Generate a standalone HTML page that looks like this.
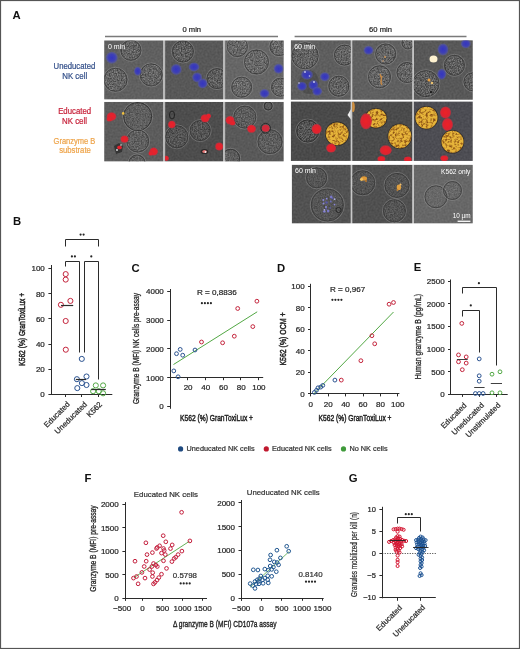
<!DOCTYPE html>
<html><head><meta charset="utf-8"><style>
html,body{margin:0;padding:0;background:#fff;}
body{width:520px;height:649px;overflow:hidden;}
svg{display:block;font-family:"Liberation Sans", sans-serif;filter:blur(0.3px);}
</style></head><body>
<svg width="520" height="649" viewBox="0 0 520 649">
<defs>
<radialGradient id="gBlue"><stop offset="0" stop-color="#3434c0"/><stop offset="0.6" stop-color="#3c3ebc" stop-opacity="0.92"/><stop offset="1" stop-color="#5458b4" stop-opacity="0.45"/></radialGradient>
<radialGradient id="gRed"><stop offset="0" stop-color="#ec2428"/><stop offset="0.75" stop-color="#de2430"/><stop offset="1" stop-color="#c82c3a" stop-opacity="0.75"/></radialGradient>
<filter id="b3" x="-20%" y="-20%" width="140%" height="140%"><feGaussianBlur stdDeviation="0.35"/></filter>
<filter id="b5" x="-50%" y="-50%" width="200%" height="200%"><feGaussianBlur stdDeviation="0.5"/></filter>
<filter id="b8" x="-50%" y="-50%" width="200%" height="200%"><feGaussianBlur stdDeviation="0.55"/></filter>
<filter id="cellTex" x="0" y="0" width="100%" height="100%" color-interpolation-filters="sRGB"><feTurbulence type="fractalNoise" baseFrequency="0.75" numOctaves="2" seed="4" result="n"/><feColorMatrix in="n" type="matrix" values="1.6 0 0 0 -0.38  1.6 0 0 0 -0.38  1.6 0 0 0 -0.38  0 0 0 0 0.38" result="g"/><feComposite in="g" in2="SourceGraphic" operator="in"/></filter>
<filter id="bgTex" x="0" y="0" width="100%" height="100%" color-interpolation-filters="sRGB"><feTurbulence type="fractalNoise" baseFrequency="0.5" numOctaves="2" seed="9" result="n"/><feColorMatrix in="n" type="matrix" values="1.5 0 0 0 -0.25  1.5 0 0 0 -0.25  1.5 0 0 0 -0.25  0 0 0 0 0.07" result="g"/><feComposite in="g" in2="SourceGraphic" operator="in"/></filter>
<filter id="yelTex" x="0" y="0" width="100%" height="100%" color-interpolation-filters="sRGB"><feTurbulence type="fractalNoise" baseFrequency="0.42" numOctaves="2" seed="2" result="n"/><feColorMatrix in="n" type="matrix" values="0 0 0 0 0.55  0 0 0 0 0.32  0 0 0 0 0.08  -3.2 0 0 0 1.8" result="g"/><feComposite in="g" in2="SourceGraphic" operator="in"/></filter>
</defs>
<rect x="0" y="0" width="520" height="649" fill="#fff"/>
<rect x="104.2" y="40.4" width="179.5" height="59.00000000000001" fill="#b8b8b8"/>
<rect x="104.2" y="101.9" width="179.5" height="59.5" fill="#b8b8b8"/>
<rect x="290.8" y="40.3" width="182.0" height="59.5" fill="#c8c8c8"/>
<rect x="290.8" y="101.5" width="182.0" height="59.400000000000006" fill="#c8c8c8"/>
<rect x="291.8" y="164.8" width="181.0" height="58.599999999999994" fill="#c8c8c8"/>
<clipPath id="c104_40"><rect x="104.2" y="40.4" width="58.8" height="59.00000000000001"/></clipPath>
<g clip-path="url(#c104_40)">
<rect x="104.2" y="40.4" width="58.8" height="59.00000000000001" fill="#5e5e5e"/>
<rect x="104.2" y="40.4" width="58.8" height="59.00000000000001" fill="#000" filter="url(#bgTex)"/>
<circle cx="130.9" cy="50.3" r="11.0" fill="none" stroke="#a0a0a0" stroke-width="0.9" opacity="0.45"/>
<circle cx="130.9" cy="50.3" r="10" fill="#000" filter="url(#cellTex)" opacity="0.8"/>
<circle cx="130.9" cy="50.3" r="10" fill="none" stroke="#303030" stroke-width="0.9" opacity="0.7"/>
<circle cx="115.5" cy="79.8" r="12.5" fill="none" stroke="#a0a0a0" stroke-width="0.9" opacity="0.45"/>
<circle cx="115.5" cy="79.8" r="11.5" fill="#000" filter="url(#cellTex)" opacity="0.8"/>
<circle cx="115.5" cy="79.8" r="11.5" fill="none" stroke="#303030" stroke-width="0.9" opacity="0.7"/>
<circle cx="151.2" cy="74.9" r="12.0" fill="none" stroke="#a0a0a0" stroke-width="0.9" opacity="0.45"/>
<circle cx="151.2" cy="74.9" r="11" fill="#000" filter="url(#cellTex)" opacity="0.8"/>
<circle cx="151.2" cy="74.9" r="11" fill="none" stroke="#303030" stroke-width="0.9" opacity="0.7"/>
<ellipse cx="111.8" cy="57.7" rx="6" ry="6" fill="url(#gBlue)" filter="url(#b8)"/>
<ellipse cx="137.7" cy="71.2" rx="3.8" ry="4.5" fill="url(#gBlue)" filter="url(#b8)"/>
<text x="108" y="48.6" font-size="7" fill="#ffffff" text-anchor="start" font-weight="normal">0 min</text>
</g>
<clipPath id="c165_40"><rect x="165.1" y="40.4" width="57.900000000000006" height="59.00000000000001"/></clipPath>
<g clip-path="url(#c165_40)">
<rect x="165.1" y="40.4" width="57.900000000000006" height="59.00000000000001" fill="#555555"/>
<rect x="165.1" y="40.4" width="57.900000000000006" height="59.00000000000001" fill="#000" filter="url(#bgTex)"/>
<circle cx="182.9" cy="51.5" r="11.5" fill="none" stroke="#a0a0a0" stroke-width="0.9" opacity="0.45"/>
<circle cx="182.9" cy="51.5" r="10.5" fill="#000" filter="url(#cellTex)" opacity="0.8"/>
<circle cx="182.9" cy="51.5" r="10.5" fill="none" stroke="#303030" stroke-width="0.9" opacity="0.7"/>
<circle cx="217" cy="78.6" r="11.0" fill="none" stroke="#a0a0a0" stroke-width="0.9" opacity="0.45"/>
<circle cx="217" cy="78.6" r="10" fill="#000" filter="url(#cellTex)" opacity="0.8"/>
<circle cx="217" cy="78.6" r="10" fill="none" stroke="#303030" stroke-width="0.9" opacity="0.7"/>
<ellipse cx="176.2" cy="69.4" rx="5.5" ry="5.5" fill="url(#gBlue)" filter="url(#b8)"/>
<ellipse cx="194" cy="66.9" rx="5.5" ry="4.5" fill="url(#gBlue)" filter="url(#b8)"/>
<ellipse cx="197.1" cy="77.4" rx="5" ry="5" fill="url(#gBlue)" filter="url(#b8)"/>
<ellipse cx="202.6" cy="83.5" rx="5" ry="5" fill="url(#gBlue)" filter="url(#b8)"/>
</g>
<clipPath id="c225_40"><rect x="225.1" y="40.4" width="58.599999999999994" height="59.00000000000001"/></clipPath>
<g clip-path="url(#c225_40)">
<rect x="225.1" y="40.4" width="58.599999999999994" height="59.00000000000001" fill="#656565"/>
<rect x="225.1" y="40.4" width="58.599999999999994" height="59.00000000000001" fill="#000" filter="url(#bgTex)"/>
<circle cx="237.4" cy="46.6" r="11.0" fill="none" stroke="#a0a0a0" stroke-width="0.9" opacity="0.45"/>
<circle cx="237.4" cy="46.6" r="10" fill="#000" filter="url(#cellTex)" opacity="0.8"/>
<circle cx="237.4" cy="46.6" r="10" fill="none" stroke="#303030" stroke-width="0.9" opacity="0.7"/>
<circle cx="256.5" cy="62" r="13.0" fill="none" stroke="#a0a0a0" stroke-width="0.9" opacity="0.45"/>
<circle cx="256.5" cy="62" r="12" fill="#000" filter="url(#cellTex)" opacity="0.8"/>
<circle cx="256.5" cy="62" r="12" fill="none" stroke="#303030" stroke-width="0.9" opacity="0.7"/>
<circle cx="279" cy="46.6" r="10.0" fill="none" stroke="#a0a0a0" stroke-width="0.9" opacity="0.45"/>
<circle cx="279" cy="46.6" r="9" fill="#000" filter="url(#cellTex)" opacity="0.8"/>
<circle cx="279" cy="46.6" r="9" fill="none" stroke="#303030" stroke-width="0.9" opacity="0.7"/>
<circle cx="241.7" cy="87.2" r="11.0" fill="none" stroke="#a0a0a0" stroke-width="0.9" opacity="0.45"/>
<circle cx="241.7" cy="87.2" r="10" fill="#000" filter="url(#cellTex)" opacity="0.8"/>
<circle cx="241.7" cy="87.2" r="10" fill="none" stroke="#303030" stroke-width="0.9" opacity="0.7"/>
<circle cx="280.5" cy="87.2" r="10.0" fill="none" stroke="#a0a0a0" stroke-width="0.9" opacity="0.45"/>
<circle cx="280.5" cy="87.2" r="9" fill="#000" filter="url(#cellTex)" opacity="0.8"/>
<circle cx="280.5" cy="87.2" r="9" fill="none" stroke="#303030" stroke-width="0.9" opacity="0.7"/>
<ellipse cx="278.6" cy="68.8" rx="5" ry="5" fill="url(#gBlue)" filter="url(#b8)"/>
<ellipse cx="264.5" cy="93.4" rx="5" ry="4.5" fill="url(#gBlue)" filter="url(#b8)"/>
</g>
<clipPath id="c104_101"><rect x="104.2" y="101.9" width="58.8" height="59.5"/></clipPath>
<g clip-path="url(#c104_101)">
<rect x="104.2" y="101.9" width="58.8" height="59.5" fill="#5a5a5a"/>
<rect x="104.2" y="101.9" width="58.8" height="59.5" fill="#000" filter="url(#bgTex)"/>
<circle cx="137.7" cy="116.5" r="15.0" fill="none" stroke="#a0a0a0" stroke-width="0.9" opacity="0.45"/>
<circle cx="137.7" cy="116.5" r="14" fill="#000" filter="url(#cellTex)" opacity="0.5"/>
<circle cx="137.7" cy="116.5" r="14" fill="none" stroke="#1e1e1e" stroke-width="0.9" opacity="0.7"/>
<circle cx="137.7" cy="141" r="12.0" fill="none" stroke="#a0a0a0" stroke-width="0.9" opacity="0.45"/>
<circle cx="137.7" cy="141" r="11" fill="#000" filter="url(#cellTex)" opacity="0.6"/>
<circle cx="137.7" cy="141" r="11" fill="none" stroke="#303030" stroke-width="0.9" opacity="0.7"/>
<circle cx="137" cy="163" r="9.0" fill="none" stroke="#a0a0a0" stroke-width="0.9" opacity="0.45"/>
<circle cx="137" cy="163" r="8" fill="#000" filter="url(#cellTex)" opacity="0.5"/>
<circle cx="137" cy="163" r="8" fill="none" stroke="#303030" stroke-width="0.9" opacity="0.7"/>
<ellipse cx="111.5" cy="116.5" rx="4.8" ry="4.2" fill="url(#gRed)" filter="url(#b8)"/>
<ellipse cx="109.5" cy="119" rx="3" ry="2.6" fill="url(#gRed)" filter="url(#b8)"/>
<ellipse cx="124.5" cy="139.2" rx="4" ry="3.6" fill="url(#gRed)" filter="url(#b8)"/>
<path d="M114,146 l5,-3 l4,3 l-1,6 l-6,2 z" fill="#2a2a2a" opacity="0.8"/>
<ellipse cx="119.5" cy="147.5" rx="2.5" ry="2" fill="url(#gRed)" filter="url(#b8)"/>
<circle cx="117" cy="150" r="0.9" fill="#e8e8e8" filter="url(#b5)"/>
<circle cx="121" cy="145" r="0.8" fill="#dddddd" filter="url(#b5)"/>
<ellipse cx="153.7" cy="151.5" rx="4.3" ry="4" fill="url(#gRed)" filter="url(#b8)"/>
<ellipse cx="150.8" cy="153.5" rx="2.4" ry="2.2" fill="url(#gRed)" filter="url(#b8)"/>
<circle cx="123.2" cy="113.4" r="1.3" fill="#f0c040" filter="url(#b5)"/>
</g>
<clipPath id="c165_101"><rect x="165.1" y="101.9" width="57.900000000000006" height="59.5"/></clipPath>
<g clip-path="url(#c165_101)">
<rect x="165.1" y="101.9" width="57.900000000000006" height="59.5" fill="#4a4a4a"/>
<rect x="165.1" y="101.9" width="57.900000000000006" height="59.5" fill="#000" filter="url(#bgTex)"/>
<circle cx="176.8" cy="136.8" r="12.0" fill="none" stroke="#a0a0a0" stroke-width="0.9" opacity="0.45"/>
<circle cx="176.8" cy="136.8" r="11" fill="#000" filter="url(#cellTex)" opacity="0.6"/>
<circle cx="176.8" cy="136.8" r="11" fill="none" stroke="#303030" stroke-width="0.9" opacity="0.7"/>
<circle cx="200.2" cy="130.6" r="11.0" fill="none" stroke="#a0a0a0" stroke-width="0.9" opacity="0.45"/>
<circle cx="200.2" cy="130.6" r="10" fill="#000" filter="url(#cellTex)" opacity="0.6"/>
<circle cx="200.2" cy="130.6" r="10" fill="none" stroke="#303030" stroke-width="0.9" opacity="0.7"/>
<ellipse cx="171.8" cy="124.5" rx="3.8" ry="3.8" fill="url(#gRed)" filter="url(#b8)"/>
<ellipse cx="172" cy="115" rx="2.5" ry="4" fill="none" stroke="#222" stroke-width="1"/>
<ellipse cx="205.1" cy="118.3" rx="4.5" ry="4" fill="url(#gRed)" filter="url(#b8)"/>
<ellipse cx="208.5" cy="116" rx="2.5" ry="2.5" fill="url(#gRed)" filter="url(#b8)"/>
<ellipse cx="219.2" cy="146.6" rx="4" ry="4" fill="url(#gRed)" filter="url(#b8)"/>
<ellipse cx="204.5" cy="151.5" rx="3.8" ry="2.6" fill="#2a2a2a"/>
<ellipse cx="204.5" cy="151.5" rx="2.2" ry="1.6" fill="#e07070" filter="url(#b8)"/>
<circle cx="205.5" cy="152" r="0.9" fill="#eeeeee" filter="url(#b5)"/>
<ellipse cx="166.3" cy="158.3" rx="2.6" ry="2.6" fill="url(#gRed)" filter="url(#b8)"/>
</g>
<clipPath id="c225_101"><rect x="225.1" y="101.9" width="58.599999999999994" height="59.5"/></clipPath>
<g clip-path="url(#c225_101)">
<rect x="225.1" y="101.9" width="58.599999999999994" height="59.5" fill="#575757"/>
<rect x="225.1" y="101.9" width="58.599999999999994" height="59.5" fill="#000" filter="url(#bgTex)"/>
<circle cx="244.8" cy="117.1" r="12.0" fill="none" stroke="#a0a0a0" stroke-width="0.9" opacity="0.45"/>
<circle cx="244.8" cy="117.1" r="11" fill="#000" filter="url(#cellTex)" opacity="0.6"/>
<circle cx="244.8" cy="117.1" r="11" fill="none" stroke="#303030" stroke-width="0.9" opacity="0.7"/>
<circle cx="270" cy="141.7" r="13.0" fill="none" stroke="#a0a0a0" stroke-width="0.9" opacity="0.45"/>
<circle cx="270" cy="141.7" r="12" fill="#000" filter="url(#cellTex)" opacity="0.6"/>
<circle cx="270" cy="141.7" r="12" fill="none" stroke="#303030" stroke-width="0.9" opacity="0.7"/>
<circle cx="230.6" cy="158.3" r="10.0" fill="none" stroke="#a0a0a0" stroke-width="0.9" opacity="0.45"/>
<circle cx="230.6" cy="158.3" r="9" fill="#000" filter="url(#cellTex)" opacity="0.5"/>
<circle cx="230.6" cy="158.3" r="9" fill="none" stroke="#222" stroke-width="0.9" opacity="0.7"/>
<circle cx="268.2" cy="106" r="5.0" fill="none" stroke="#a0a0a0" stroke-width="0.9" opacity="0.45"/>
<circle cx="268.2" cy="106" r="4" fill="#000" filter="url(#cellTex)" opacity="0.3"/>
<circle cx="268.2" cy="106" r="4" fill="none" stroke="#1a1a1a" stroke-width="0.9" opacity="0.7"/>
<ellipse cx="230" cy="120.2" rx="4.5" ry="4.2" fill="url(#gRed)" filter="url(#b8)"/>
<ellipse cx="232.5" cy="123" rx="3" ry="2.5" fill="url(#gRed)" filter="url(#b8)"/>
<ellipse cx="251.5" cy="128.8" rx="4.5" ry="4" fill="url(#gRed)" filter="url(#b8)"/>
<circle cx="265.7" cy="128.2" r="4.8" fill="none" stroke="#2a2a2a" stroke-width="1"/>
<ellipse cx="265.7" cy="128.2" rx="3.8" ry="3.5" fill="#d02a3a" filter="url(#b8)"/>
</g>
<clipPath id="c290_40"><rect x="290.8" y="40.3" width="60.0" height="59.5"/></clipPath>
<g clip-path="url(#c290_40)">
<rect x="290.8" y="40.3" width="60.0" height="59.5" fill="#5c5c5c"/>
<rect x="290.8" y="40.3" width="60.0" height="59.5" fill="#000" filter="url(#bgTex)"/>
<circle cx="305.1" cy="55.8" r="14.0" fill="none" stroke="#a0a0a0" stroke-width="0.9" opacity="0.45"/>
<circle cx="305.1" cy="55.8" r="13" fill="#000" filter="url(#cellTex)" opacity="0.8"/>
<circle cx="305.1" cy="55.8" r="13" fill="none" stroke="#303030" stroke-width="0.9" opacity="0.7"/>
<circle cx="344.5" cy="55.1" r="11.0" fill="none" stroke="#a0a0a0" stroke-width="0.9" opacity="0.45"/>
<circle cx="344.5" cy="55.1" r="10" fill="#000" filter="url(#cellTex)" opacity="0.8"/>
<circle cx="344.5" cy="55.1" r="10" fill="none" stroke="#303030" stroke-width="0.9" opacity="0.7"/>
<circle cx="338.8" cy="86.2" r="11.0" fill="none" stroke="#a0a0a0" stroke-width="0.9" opacity="0.45"/>
<circle cx="338.8" cy="86.2" r="10" fill="#000" filter="url(#cellTex)" opacity="0.8"/>
<circle cx="338.8" cy="86.2" r="10" fill="none" stroke="#303030" stroke-width="0.9" opacity="0.7"/>
<ellipse cx="309" cy="82" rx="10" ry="12" fill="#333" opacity="0.35"/>
<ellipse cx="307" cy="74.8" rx="6" ry="5" fill="url(#gBlue)" filter="url(#b8)"/>
<ellipse cx="324.8" cy="76.7" rx="5" ry="4.5" fill="url(#gBlue)" filter="url(#b8)"/>
<ellipse cx="302" cy="86.2" rx="5" ry="4.5" fill="url(#gBlue)" filter="url(#b8)"/>
<ellipse cx="313.4" cy="85" rx="5" ry="5" fill="url(#gBlue)" filter="url(#b8)"/>
<ellipse cx="317.2" cy="91.3" rx="5" ry="4.5" fill="url(#gBlue)" filter="url(#b8)"/>
<circle cx="305" cy="72" r="0.9" fill="#c8c8e8" filter="url(#b5)"/>
<circle cx="309.5" cy="76" r="0.8" fill="#c0c0e0" filter="url(#b5)"/>
<circle cx="299" cy="83" r="0.8" fill="#c8c8e8" filter="url(#b5)"/>
<circle cx="314" cy="82" r="0.9" fill="#d0d0f0" filter="url(#b5)"/>
<text x="294.2" y="48.8" font-size="7" fill="#ffffff" text-anchor="start" font-weight="normal">60 min</text>
</g>
<clipPath id="c352_40"><rect x="352.2" y="40.3" width="60.19999999999999" height="59.5"/></clipPath>
<g clip-path="url(#c352_40)">
<rect x="352.2" y="40.3" width="60.19999999999999" height="59.5" fill="#5e5e5e"/>
<rect x="352.2" y="40.3" width="60.19999999999999" height="59.5" fill="#000" filter="url(#bgTex)"/>
<circle cx="385.7" cy="54" r="11.0" fill="none" stroke="#a0a0a0" stroke-width="0.9" opacity="0.45"/>
<circle cx="385.7" cy="54" r="10" fill="#000" filter="url(#cellTex)" opacity="0.8"/>
<circle cx="385.7" cy="54" r="10" fill="none" stroke="#303030" stroke-width="0.9" opacity="0.7"/>
<circle cx="379.5" cy="76.8" r="12.0" fill="none" stroke="#a0a0a0" stroke-width="0.9" opacity="0.45"/>
<circle cx="379.5" cy="76.8" r="11" fill="#000" filter="url(#cellTex)" opacity="0.8"/>
<circle cx="379.5" cy="76.8" r="11" fill="none" stroke="#303030" stroke-width="0.9" opacity="0.7"/>
<circle cx="407" cy="72.5" r="11.0" fill="none" stroke="#a0a0a0" stroke-width="0.9" opacity="0.45"/>
<circle cx="407" cy="72.5" r="10" fill="#000" filter="url(#cellTex)" opacity="0.8"/>
<circle cx="407" cy="72.5" r="10" fill="none" stroke="#303030" stroke-width="0.9" opacity="0.7"/>
<circle cx="408" cy="42.9" r="7.0" fill="none" stroke="#a0a0a0" stroke-width="0.9" opacity="0.45"/>
<circle cx="408" cy="42.9" r="6" fill="#000" filter="url(#cellTex)" opacity="0.8"/>
<circle cx="408" cy="42.9" r="6" fill="none" stroke="#303030" stroke-width="0.9" opacity="0.7"/>
<ellipse cx="368.5" cy="50.3" rx="5" ry="4.5" fill="url(#gBlue)" filter="url(#b8)"/>
<path d="M380,74 q2,4 1,10 M382,76 q-2,5 0,9" stroke="#d89040" stroke-width="1.3" fill="none" opacity="0.85" filter="url(#b5)"/>
<circle cx="385" cy="57" r="0.9" fill="#d8a060" filter="url(#b5)"/>
<circle cx="383" cy="61" r="0.8" fill="#e0b080" filter="url(#b5)"/>
</g>
<clipPath id="c413_40"><rect x="413.8" y="40.3" width="59.0" height="59.5"/></clipPath>
<g clip-path="url(#c413_40)">
<rect x="413.8" y="40.3" width="59.0" height="59.5" fill="#555555"/>
<rect x="413.8" y="40.3" width="59.0" height="59.5" fill="#000" filter="url(#bgTex)"/>
<circle cx="454.4" cy="65.3" r="11.0" fill="none" stroke="#a0a0a0" stroke-width="0.9" opacity="0.45"/>
<circle cx="454.4" cy="65.3" r="10" fill="#000" filter="url(#cellTex)" opacity="0.8"/>
<circle cx="454.4" cy="65.3" r="10" fill="none" stroke="#303030" stroke-width="0.9" opacity="0.7"/>
<circle cx="425.9" cy="83.7" r="14.0" fill="none" stroke="#a0a0a0" stroke-width="0.9" opacity="0.45"/>
<circle cx="425.9" cy="83.7" r="13" fill="#000" filter="url(#cellTex)" opacity="0.8"/>
<circle cx="425.9" cy="83.7" r="13" fill="none" stroke="#303030" stroke-width="0.9" opacity="0.7"/>
<circle cx="473" cy="81.8" r="10.0" fill="none" stroke="#a0a0a0" stroke-width="0.9" opacity="0.45"/>
<circle cx="473" cy="81.8" r="9" fill="#000" filter="url(#cellTex)" opacity="0.8"/>
<circle cx="473" cy="81.8" r="9" fill="none" stroke="#303030" stroke-width="0.9" opacity="0.7"/>
<ellipse cx="443" cy="49.4" rx="5.5" ry="6" fill="url(#gBlue)" filter="url(#b8)"/>
<ellipse cx="465.8" cy="43.7" rx="5" ry="4.5" fill="url(#gBlue)" filter="url(#b8)"/>
<ellipse cx="441.7" cy="74.2" rx="4.5" ry="5.5" fill="url(#gBlue)" filter="url(#b8)"/>
<ellipse cx="433.5" cy="58.9" rx="4" ry="3.5" fill="#fff3d0" filter="url(#b8)"/>
<circle cx="429" cy="80" r="1.5" fill="#e8a040" filter="url(#b5)"/>
<circle cx="432" cy="83" r="1.3" fill="#e8c070" filter="url(#b5)"/>
<circle cx="431" cy="92" r="1" fill="#111" filter="url(#b5)"/>
</g>
<clipPath id="c290_101"><rect x="290.8" y="101.5" width="60.0" height="59.400000000000006"/></clipPath>
<g clip-path="url(#c290_101)">
<rect x="290.8" y="101.5" width="60.0" height="59.400000000000006" fill="#464646"/>
<rect x="290.8" y="101.5" width="60.0" height="59.400000000000006" fill="#000" filter="url(#bgTex)"/>
<circle cx="307.7" cy="131" r="12.0" fill="none" stroke="#a0a0a0" stroke-width="0.9" opacity="0.45"/>
<circle cx="307.7" cy="131" r="11" fill="#000" filter="url(#cellTex)" opacity="0.8"/>
<circle cx="307.7" cy="131" r="11" fill="none" stroke="#1e1e1e" stroke-width="0.9" opacity="0.7"/>
<ellipse cx="316.6" cy="129.1" rx="5" ry="5" fill="url(#gRed)" filter="url(#b8)"/>
<ellipse cx="337.2" cy="133.8" rx="12.200000000000001" ry="12.200000000000001" fill="#2a2422" opacity="0.8"/>
<ellipse cx="337.2" cy="133.8" rx="11.4" ry="11.4" fill="#e6b43a"/>
<ellipse cx="337.2" cy="133.8" rx="11.4" ry="11.4" fill="#000" filter="url(#yelTex)"/>
<ellipse cx="331.1" cy="148.1" rx="5" ry="4.5" fill="url(#gRed)" filter="url(#b8)"/>
<polygon points="351,109 347.5,115 351,119.5" fill="#eeeeee"/>
</g>
<clipPath id="c352_101"><rect x="352.2" y="101.5" width="60.19999999999999" height="59.400000000000006"/></clipPath>
<g clip-path="url(#c352_101)">
<rect x="352.2" y="101.5" width="60.19999999999999" height="59.400000000000006" fill="#474747"/>
<rect x="352.2" y="101.5" width="60.19999999999999" height="59.400000000000006" fill="#000" filter="url(#bgTex)"/>
<ellipse cx="376" cy="118.3" rx="11.3" ry="10.3" fill="#2a2422" opacity="0.8"/>
<ellipse cx="376" cy="118.3" rx="10.5" ry="9.5" fill="#e6b43a"/>
<ellipse cx="376" cy="118.3" rx="10.5" ry="9.5" fill="#000" filter="url(#yelTex)"/>
<ellipse cx="366" cy="121.3" rx="6" ry="8" fill="url(#gRed)" filter="url(#b8)"/>
<ellipse cx="399.8" cy="136.2" rx="12.3" ry="12.8" fill="#2a2422" opacity="0.8"/>
<ellipse cx="399.8" cy="136.2" rx="11.5" ry="12" fill="#e6b43a"/>
<ellipse cx="399.8" cy="136.2" rx="11.5" ry="12" fill="#000" filter="url(#yelTex)"/>
<ellipse cx="385.7" cy="150.3" rx="6" ry="5" fill="url(#gRed)" filter="url(#b8)"/>
<ellipse cx="381.4" cy="159" rx="4" ry="3" fill="url(#gRed)" filter="url(#b8)"/>
<ellipse cx="407.8" cy="159.5" rx="4" ry="3" fill="url(#gRed)" filter="url(#b8)"/>
<ellipse cx="353" cy="107" rx="1.8" ry="5" fill="#d09040" filter="url(#b8)"/>
</g>
<clipPath id="c413_101"><rect x="413.8" y="101.5" width="59.0" height="59.400000000000006"/></clipPath>
<g clip-path="url(#c413_101)">
<rect x="413.8" y="101.5" width="59.0" height="59.400000000000006" fill="#4a4a50"/>
<rect x="413.8" y="101.5" width="59.0" height="59.400000000000006" fill="#000" filter="url(#bgTex)"/>
<ellipse cx="426.5" cy="117.7" rx="11.8" ry="11.8" fill="#2a2422" opacity="0.8"/>
<ellipse cx="426.5" cy="117.7" rx="11" ry="11" fill="#e6b43a"/>
<ellipse cx="426.5" cy="117.7" rx="11" ry="11" fill="#000" filter="url(#yelTex)"/>
<ellipse cx="445.5" cy="112.5" rx="5.5" ry="6" fill="url(#gRed)" filter="url(#b8)"/>
<ellipse cx="447.5" cy="124.5" rx="5.5" ry="6.5" fill="url(#gRed)" filter="url(#b8)"/>
<ellipse cx="452.5" cy="141.8" rx="11.8" ry="11.8" fill="#2a2422" opacity="0.8"/>
<ellipse cx="452.5" cy="141.8" rx="11" ry="11" fill="#e6b43a"/>
<ellipse cx="452.5" cy="141.8" rx="11" ry="11" fill="#000" filter="url(#yelTex)"/>
<ellipse cx="444.3" cy="158.3" rx="4" ry="3" fill="url(#gRed)" filter="url(#b8)"/>
</g>
<clipPath id="c291_164"><rect x="291.8" y="164.8" width="59.0" height="58.599999999999994"/></clipPath>
<g clip-path="url(#c291_164)">
<rect x="291.8" y="164.8" width="59.0" height="58.599999999999994" fill="#4f4f4f"/>
<rect x="291.8" y="164.8" width="59.0" height="58.599999999999994" fill="#000" filter="url(#bgTex)"/>
<circle cx="316.6" cy="177.8" r="11.0" fill="none" stroke="#a0a0a0" stroke-width="0.9" opacity="0.45"/>
<circle cx="316.6" cy="177.8" r="10" fill="#000" filter="url(#cellTex)" opacity="0.35"/>
<circle cx="316.6" cy="177.8" r="10" fill="none" stroke="#303030" stroke-width="0.9" opacity="0.7"/>
<circle cx="327.3" cy="205" r="17.0" fill="none" stroke="#a0a0a0" stroke-width="0.9" opacity="0.45"/>
<circle cx="327.3" cy="205" r="16" fill="#000" filter="url(#cellTex)" opacity="0.35"/>
<circle cx="327.3" cy="205" r="16" fill="none" stroke="#303030" stroke-width="0.9" opacity="0.7"/>
<circle cx="330.1" cy="207.9" r="0.8" fill="#5a58a8" filter="url(#b5)"/>
<circle cx="328.1" cy="211.1" r="1.3" fill="#7a78c8" filter="url(#b5)"/>
<circle cx="323.5" cy="203.5" r="1.0" fill="#8a88d8" filter="url(#b5)"/>
<circle cx="323.3" cy="200.0" r="1.0" fill="#8a88d8" filter="url(#b5)"/>
<circle cx="324.4" cy="209.9" r="0.9" fill="#b0b0e0" filter="url(#b5)"/>
<circle cx="332.4" cy="198.2" r="1.0" fill="#5a58a8" filter="url(#b5)"/>
<circle cx="323.7" cy="211.6" r="0.9" fill="#7a78c8" filter="url(#b5)"/>
<circle cx="324.8" cy="211.7" r="0.9" fill="#8a88d8" filter="url(#b5)"/>
<circle cx="334.5" cy="204.6" r="0.9" fill="#8a88d8" filter="url(#b5)"/>
<circle cx="334.6" cy="199.2" r="0.9" fill="#b0b0e0" filter="url(#b5)"/>
<circle cx="326.7" cy="198.7" r="0.9" fill="#8a88d8" filter="url(#b5)"/>
<circle cx="326.3" cy="209.1" r="0.8" fill="#5a58a8" filter="url(#b5)"/>
<circle cx="330.8" cy="201.4" r="1.0" fill="#6a68b8" filter="url(#b5)"/>
<circle cx="326.0" cy="207.1" r="1.0" fill="#8a88d8" filter="url(#b5)"/>
<circle cx="331.2" cy="196.9" r="1.3" fill="#7a78c8" filter="url(#b5)"/>
<circle cx="326.6" cy="202.5" r="1.2" fill="#5a58a8" filter="url(#b5)"/>
<circle cx="338.5" cy="210" r="2.6" fill="none" stroke="#222" stroke-width="0.9"/>
<text x="295" y="173.3" font-size="7" fill="#ffffff" text-anchor="start" font-weight="normal">60 min</text>
</g>
<clipPath id="c352_164"><rect x="352.2" y="164.8" width="60.19999999999999" height="58.599999999999994"/></clipPath>
<g clip-path="url(#c352_164)">
<rect x="352.2" y="164.8" width="60.19999999999999" height="58.599999999999994" fill="#4d4d4d"/>
<rect x="352.2" y="164.8" width="60.19999999999999" height="58.599999999999994" fill="#000" filter="url(#bgTex)"/>
<circle cx="362.7" cy="182.8" r="13.0" fill="none" stroke="#a0a0a0" stroke-width="0.9" opacity="0.45"/>
<circle cx="362.7" cy="182.8" r="12" fill="#000" filter="url(#cellTex)" opacity="0.35"/>
<circle cx="362.7" cy="182.8" r="12" fill="none" stroke="#303030" stroke-width="0.9" opacity="0.7"/>
<circle cx="397" cy="185.4" r="13.0" fill="none" stroke="#a0a0a0" stroke-width="0.9" opacity="0.45"/>
<circle cx="397" cy="185.4" r="12" fill="#000" filter="url(#cellTex)" opacity="0.35"/>
<circle cx="397" cy="185.4" r="12" fill="none" stroke="#303030" stroke-width="0.9" opacity="0.7"/>
<circle cx="394.4" cy="210.8" r="12.0" fill="none" stroke="#a0a0a0" stroke-width="0.9" opacity="0.45"/>
<circle cx="394.4" cy="210.8" r="11" fill="#000" filter="url(#cellTex)" opacity="0.45"/>
<circle cx="394.4" cy="210.8" r="11" fill="none" stroke="#303030" stroke-width="0.9" opacity="0.7"/>
<ellipse cx="364" cy="178.4" rx="3" ry="2.2" fill="#e09a38" filter="url(#b8)"/>
<ellipse cx="361.5" cy="179.5" rx="1.6" ry="1.4" fill="#f0c060" filter="url(#b8)"/>
<circle cx="366" cy="181" r="1" fill="#c07828" filter="url(#b5)"/>
<ellipse cx="398.9" cy="187.3" rx="2.2" ry="2.8" fill="#e0a040" filter="url(#b8)"/>
<circle cx="400.5" cy="184.5" r="1" fill="#f0c070" filter="url(#b5)"/>
<circle cx="397.5" cy="190" r="1" fill="#c08030" filter="url(#b5)"/>
</g>
<clipPath id="c413_164"><rect x="413.8" y="164.8" width="59.0" height="58.599999999999994"/></clipPath>
<g clip-path="url(#c413_164)">
<rect x="413.8" y="164.8" width="59.0" height="58.599999999999994" fill="#666666"/>
<rect x="413.8" y="164.8" width="59.0" height="58.599999999999994" fill="#000" filter="url(#bgTex)"/>
<circle cx="436" cy="196.8" r="12.0" fill="none" stroke="#a0a0a0" stroke-width="0.9" opacity="0.45"/>
<circle cx="436" cy="196.8" r="11" fill="#000" filter="url(#cellTex)" opacity="0.25"/>
<circle cx="436" cy="196.8" r="11" fill="none" stroke="#303030" stroke-width="0.9" opacity="0.7"/>
<circle cx="452.5" cy="190.5" r="10.0" fill="none" stroke="#a0a0a0" stroke-width="0.9" opacity="0.45"/>
<circle cx="452.5" cy="190.5" r="9" fill="#000" filter="url(#cellTex)" opacity="0.4"/>
<circle cx="452.5" cy="190.5" r="9" fill="none" stroke="#303030" stroke-width="0.9" opacity="0.7"/>
<text x="470.4" y="173.6" font-size="6.6" fill="#ffffff" text-anchor="end" font-weight="normal">K562 only</text>
<text x="470.6" y="218.2" font-size="6.4" fill="#ffffff" text-anchor="end" font-weight="normal">10 µm</text>
<rect x="457.6" y="220.6" width="12.8" height="1.4" fill="#f4f4f4"/>
</g>
<line x1="105.00" y1="36.50" x2="278.00" y2="36.50" stroke="#7a7a7a" stroke-width="1.4"/>
<line x1="294.60" y1="36.50" x2="466.50" y2="36.50" stroke="#7a7a7a" stroke-width="1.4"/>
<text x="191.80" y="31.50" font-size="7.6" text-anchor="middle" fill="#262626" stroke="#262626" stroke-width="0.22">0 min</text>
<text x="380.50" y="31.50" font-size="7.6" text-anchor="middle" fill="#262626" stroke="#262626" stroke-width="0.22">60 min</text>
<text x="74.40" y="68.80" font-size="8.3" text-anchor="middle" fill="#34508a" stroke="#34508a" stroke-width="0.22" textLength="41.7" lengthAdjust="spacingAndGlyphs">Uneducated</text>
<text x="74.70" y="78.50" font-size="8.3" text-anchor="middle" fill="#34508a" stroke="#34508a" stroke-width="0.22" textLength="24.9" lengthAdjust="spacingAndGlyphs">NK cell</text>
<text x="74.60" y="114.10" font-size="8.3" text-anchor="middle" fill="#c8243c" stroke="#c8243c" stroke-width="0.22" textLength="32.9" lengthAdjust="spacingAndGlyphs">Educated</text>
<text x="74.50" y="124.00" font-size="8.3" text-anchor="middle" fill="#c8243c" stroke="#c8243c" stroke-width="0.22" textLength="25" lengthAdjust="spacingAndGlyphs">NK cell</text>
<text x="74.40" y="144.10" font-size="8.3" text-anchor="middle" fill="#eea44a" stroke="#eea44a" stroke-width="0.22" textLength="41.7" lengthAdjust="spacingAndGlyphs">Granzyme B</text>
<text x="75.00" y="153.20" font-size="8.3" text-anchor="middle" fill="#eea44a" stroke="#eea44a" stroke-width="0.22" textLength="31.7" lengthAdjust="spacingAndGlyphs">substrate</text>
<text x="12.50" y="18.70" font-size="11.3" text-anchor="start" fill="#111" font-weight="bold">A</text>
<text x="12.90" y="225.40" font-size="11.3" text-anchor="start" fill="#111" font-weight="bold">B</text>
<text x="131.50" y="272.00" font-size="11.3" text-anchor="start" fill="#111" font-weight="bold">C</text>
<text x="277.00" y="272.00" font-size="11.3" text-anchor="start" fill="#111" font-weight="bold">D</text>
<text x="413.80" y="271.30" font-size="11.3" text-anchor="start" fill="#111" font-weight="bold">E</text>
<text x="84.60" y="482.00" font-size="11.3" text-anchor="start" fill="#111" font-weight="bold">F</text>
<text x="348.70" y="481.90" font-size="11.3" text-anchor="start" fill="#111" font-weight="bold">G</text>
<line x1="51.50" y1="265.00" x2="51.50" y2="394.90" stroke="#2b2b2b" stroke-width="1"/>
<line x1="50.70" y1="394.50" x2="112.30" y2="394.50" stroke="#2b2b2b" stroke-width="1"/>
<line x1="48.40" y1="394.50" x2="51.20" y2="394.50" stroke="#2b2b2b" stroke-width="1"/>
<text x="44.80" y="397.30" font-size="8" text-anchor="end" fill="#262626" stroke="#262626" stroke-width="0.22">0</text>
<line x1="48.40" y1="369.50" x2="51.20" y2="369.50" stroke="#2b2b2b" stroke-width="1"/>
<text x="44.80" y="372.10" font-size="8" text-anchor="end" fill="#262626" stroke="#262626" stroke-width="0.22">20</text>
<line x1="48.40" y1="344.50" x2="51.20" y2="344.50" stroke="#2b2b2b" stroke-width="1"/>
<text x="44.80" y="346.90" font-size="8" text-anchor="end" fill="#262626" stroke="#262626" stroke-width="0.22">40</text>
<line x1="48.40" y1="318.50" x2="51.20" y2="318.50" stroke="#2b2b2b" stroke-width="1"/>
<text x="44.80" y="321.70" font-size="8" text-anchor="end" fill="#262626" stroke="#262626" stroke-width="0.22">60</text>
<line x1="48.40" y1="293.50" x2="51.20" y2="293.50" stroke="#2b2b2b" stroke-width="1"/>
<text x="44.80" y="296.50" font-size="8" text-anchor="end" fill="#262626" stroke="#262626" stroke-width="0.22">80</text>
<line x1="48.40" y1="268.50" x2="51.20" y2="268.50" stroke="#2b2b2b" stroke-width="1"/>
<text x="44.80" y="271.30" font-size="8" text-anchor="end" fill="#262626" stroke="#262626" stroke-width="0.22">100</text>
<line x1="65.50" y1="394.40" x2="65.50" y2="397.00" stroke="#2b2b2b" stroke-width="1"/>
<line x1="81.50" y1="394.40" x2="81.50" y2="397.00" stroke="#2b2b2b" stroke-width="1"/>
<line x1="98.50" y1="394.40" x2="98.50" y2="397.00" stroke="#2b2b2b" stroke-width="1"/>
<polyline points="65.50,246.50 65.50,239.50 98.50,239.50 98.50,246.50" fill="none" stroke="#2b2b2b" stroke-width="1"/>
<polyline points="65.50,266.50 65.50,261.50 79.50,261.50 79.50,352.50" fill="none" stroke="#2b2b2b" stroke-width="1"/>
<polyline points="84.50,352.50 84.50,261.50 98.50,261.50 98.50,379.50" fill="none" stroke="#2b2b2b" stroke-width="1"/>
<circle cx="80.60" cy="234.60" r="1.1" fill="#262626"/>
<circle cx="83.60" cy="234.60" r="1.1" fill="#262626"/>
<circle cx="71.90" cy="256.40" r="1.1" fill="#262626"/>
<circle cx="74.90" cy="256.40" r="1.1" fill="#262626"/>
<circle cx="91.30" cy="256.40" r="1.1" fill="#262626"/>
<circle cx="65.70" cy="274.10" r="2.55" fill="none" stroke="#c4243c" stroke-width="1.0"/>
<circle cx="65.70" cy="279.60" r="2.55" fill="none" stroke="#c4243c" stroke-width="1.0"/>
<circle cx="70.40" cy="300.90" r="2.55" fill="none" stroke="#c4243c" stroke-width="1.0"/>
<circle cx="60.90" cy="304.80" r="2.55" fill="none" stroke="#c4243c" stroke-width="1.0"/>
<circle cx="65.70" cy="321.00" r="2.55" fill="none" stroke="#c4243c" stroke-width="1.0"/>
<circle cx="65.80" cy="349.70" r="2.55" fill="none" stroke="#c4243c" stroke-width="1.0"/>
<line x1="61.00" y1="305.50" x2="73.20" y2="305.50" stroke="#2b2b2b" stroke-width="1.2"/>
<circle cx="81.80" cy="358.90" r="2.55" fill="none" stroke="#2a5290" stroke-width="1.0"/>
<circle cx="86.50" cy="376.50" r="2.55" fill="none" stroke="#2a5290" stroke-width="1.0"/>
<circle cx="76.90" cy="379.20" r="2.55" fill="none" stroke="#2a5290" stroke-width="1.0"/>
<circle cx="81.90" cy="383.10" r="2.55" fill="none" stroke="#2a5290" stroke-width="1.0"/>
<circle cx="86.50" cy="385.00" r="2.55" fill="none" stroke="#2a5290" stroke-width="1.0"/>
<circle cx="77.30" cy="388.10" r="2.55" fill="none" stroke="#2a5290" stroke-width="1.0"/>
<line x1="75.80" y1="379.50" x2="86.00" y2="379.50" stroke="#2b2b2b" stroke-width="1.2"/>
<circle cx="95.80" cy="385.40" r="2.55" fill="none" stroke="#52a844" stroke-width="1.0"/>
<circle cx="103.10" cy="385.40" r="2.55" fill="none" stroke="#52a844" stroke-width="1.0"/>
<circle cx="93.10" cy="391.20" r="2.55" fill="none" stroke="#52a844" stroke-width="1.0"/>
<circle cx="98.80" cy="391.20" r="2.55" fill="none" stroke="#52a844" stroke-width="1.0"/>
<circle cx="103.10" cy="393.30" r="2.55" fill="none" stroke="#52a844" stroke-width="1.0"/>
<line x1="91.20" y1="389.50" x2="105.80" y2="389.50" stroke="#2b2b2b" stroke-width="1.2"/>
<text x="25.30" y="329.30" font-size="9.5" text-anchor="middle" fill="#262626" stroke="#262626" stroke-width="0.5" textLength="73" lengthAdjust="spacingAndGlyphs" transform="rotate(-90 25.30 329.30)">K562 (%) GranToxiLux +</text>
<text x="70.30" y="404.80" font-size="7.8" text-anchor="end" fill="#262626" stroke="#262626" stroke-width="0.22" transform="rotate(-45 70.30 404.80)">Educated</text>
<text x="87.60" y="404.80" font-size="7.8" text-anchor="end" fill="#262626" stroke="#262626" stroke-width="0.22" transform="rotate(-45 87.60 404.80)">Uneducated</text>
<text x="102.60" y="404.80" font-size="7.8" text-anchor="end" fill="#262626" stroke="#262626" stroke-width="0.22" transform="rotate(-45 102.60 404.80)">K562</text>
<line x1="170.50" y1="289.00" x2="170.50" y2="408.80" stroke="#2b2b2b" stroke-width="1"/>
<line x1="170.00" y1="377.50" x2="263.20" y2="377.50" stroke="#2b2b2b" stroke-width="1"/>
<line x1="167.20" y1="406.50" x2="170.00" y2="406.50" stroke="#2b2b2b" stroke-width="1"/>
<text x="163.80" y="409.20" font-size="8" text-anchor="end" fill="#262626" stroke="#262626" stroke-width="0.22">0</text>
<line x1="167.20" y1="377.50" x2="170.00" y2="377.50" stroke="#2b2b2b" stroke-width="1"/>
<text x="163.80" y="380.50" font-size="8" text-anchor="end" fill="#262626" stroke="#262626" stroke-width="0.22">1000</text>
<line x1="167.20" y1="348.50" x2="170.00" y2="348.50" stroke="#2b2b2b" stroke-width="1"/>
<text x="163.80" y="351.80" font-size="8" text-anchor="end" fill="#262626" stroke="#262626" stroke-width="0.22">2000</text>
<line x1="167.20" y1="320.50" x2="170.00" y2="320.50" stroke="#2b2b2b" stroke-width="1"/>
<text x="163.80" y="323.10" font-size="8" text-anchor="end" fill="#262626" stroke="#262626" stroke-width="0.22">3000</text>
<line x1="167.20" y1="291.50" x2="170.00" y2="291.50" stroke="#2b2b2b" stroke-width="1"/>
<text x="163.80" y="294.40" font-size="8" text-anchor="end" fill="#262626" stroke="#262626" stroke-width="0.22">4000</text>
<line x1="187.50" y1="377.60" x2="187.50" y2="380.20" stroke="#2b2b2b" stroke-width="1"/>
<text x="188.10" y="390.20" font-size="8" text-anchor="middle" fill="#262626" stroke="#262626" stroke-width="0.22">20</text>
<line x1="205.50" y1="377.60" x2="205.50" y2="380.20" stroke="#2b2b2b" stroke-width="1"/>
<text x="205.80" y="390.20" font-size="8" text-anchor="middle" fill="#262626" stroke="#262626" stroke-width="0.22">40</text>
<line x1="223.50" y1="377.60" x2="223.50" y2="380.20" stroke="#2b2b2b" stroke-width="1"/>
<text x="223.50" y="390.20" font-size="8" text-anchor="middle" fill="#262626" stroke="#262626" stroke-width="0.22">60</text>
<line x1="240.50" y1="377.60" x2="240.50" y2="380.20" stroke="#2b2b2b" stroke-width="1"/>
<text x="241.20" y="390.20" font-size="8" text-anchor="middle" fill="#262626" stroke="#262626" stroke-width="0.22">80</text>
<line x1="258.50" y1="377.60" x2="258.50" y2="380.20" stroke="#2b2b2b" stroke-width="1"/>
<text x="258.90" y="390.20" font-size="8" text-anchor="middle" fill="#262626" stroke="#262626" stroke-width="0.22">100</text>
<text x="196.90" y="294.60" font-size="8.1" text-anchor="start" fill="#262626" stroke="#262626" stroke-width="0.22">R = 0,8836</text>
<circle cx="201.90" cy="303.20" r="1.1" fill="#262626"/>
<circle cx="204.90" cy="303.20" r="1.1" fill="#262626"/>
<circle cx="207.90" cy="303.20" r="1.1" fill="#262626"/>
<circle cx="210.90" cy="303.20" r="1.1" fill="#262626"/>
<line x1="173.50" y1="364.50" x2="257.20" y2="311.80" stroke="#52a844" stroke-width="1"/>
<circle cx="256.90" cy="301.20" r="1.9" fill="none" stroke="#c4243c" stroke-width="1.0"/>
<circle cx="237.70" cy="308.50" r="1.9" fill="none" stroke="#c4243c" stroke-width="1.0"/>
<circle cx="252.80" cy="326.60" r="1.9" fill="none" stroke="#c4243c" stroke-width="1.0"/>
<circle cx="234.30" cy="336.20" r="1.9" fill="none" stroke="#c4243c" stroke-width="1.0"/>
<circle cx="222.60" cy="342.80" r="1.9" fill="none" stroke="#c4243c" stroke-width="1.0"/>
<circle cx="201.50" cy="342.00" r="1.9" fill="none" stroke="#c4243c" stroke-width="1.0"/>
<circle cx="180.20" cy="349.40" r="1.9" fill="none" stroke="#2a5290" stroke-width="1.0"/>
<circle cx="176.50" cy="353.70" r="1.9" fill="none" stroke="#2a5290" stroke-width="1.0"/>
<circle cx="182.70" cy="355.20" r="1.9" fill="none" stroke="#2a5290" stroke-width="1.0"/>
<circle cx="195.00" cy="350.00" r="1.9" fill="none" stroke="#2a5290" stroke-width="1.0"/>
<circle cx="173.80" cy="370.90" r="1.9" fill="none" stroke="#2a5290" stroke-width="1.0"/>
<circle cx="178.10" cy="376.80" r="1.9" fill="none" stroke="#2a5290" stroke-width="1.0"/>
<text x="216.50" y="421.40" font-size="9.5" text-anchor="middle" fill="#262626" stroke="#262626" stroke-width="0.5" textLength="73" lengthAdjust="spacingAndGlyphs">K562 (%) GranToxiLux +</text>
<text x="139.40" y="348.50" font-size="9.5" text-anchor="middle" fill="#262626" stroke="#262626" stroke-width="0.3" textLength="111" lengthAdjust="spacingAndGlyphs" transform="rotate(-90 139.40 348.50)">Granzyme B (MFI) NK cells pre-assay</text>
<line x1="310.50" y1="283.80" x2="310.50" y2="394.30" stroke="#2b2b2b" stroke-width="1"/>
<line x1="310.30" y1="393.50" x2="399.40" y2="393.50" stroke="#2b2b2b" stroke-width="1"/>
<line x1="308.00" y1="393.50" x2="310.80" y2="393.50" stroke="#2b2b2b" stroke-width="1"/>
<text x="304.60" y="396.70" font-size="8" text-anchor="end" fill="#262626" stroke="#262626" stroke-width="0.22">0</text>
<line x1="308.00" y1="372.50" x2="310.80" y2="372.50" stroke="#2b2b2b" stroke-width="1"/>
<text x="304.60" y="375.20" font-size="8" text-anchor="end" fill="#262626" stroke="#262626" stroke-width="0.22">20</text>
<line x1="308.00" y1="350.50" x2="310.80" y2="350.50" stroke="#2b2b2b" stroke-width="1"/>
<text x="304.60" y="353.70" font-size="8" text-anchor="end" fill="#262626" stroke="#262626" stroke-width="0.22">40</text>
<line x1="308.00" y1="329.50" x2="310.80" y2="329.50" stroke="#2b2b2b" stroke-width="1"/>
<text x="304.60" y="332.20" font-size="8" text-anchor="end" fill="#262626" stroke="#262626" stroke-width="0.22">60</text>
<line x1="308.00" y1="307.50" x2="310.80" y2="307.50" stroke="#2b2b2b" stroke-width="1"/>
<text x="304.60" y="310.70" font-size="8" text-anchor="end" fill="#262626" stroke="#262626" stroke-width="0.22">80</text>
<line x1="308.00" y1="286.50" x2="310.80" y2="286.50" stroke="#2b2b2b" stroke-width="1"/>
<text x="304.60" y="289.20" font-size="8" text-anchor="end" fill="#262626" stroke="#262626" stroke-width="0.22">100</text>
<line x1="310.50" y1="393.80" x2="310.50" y2="396.40" stroke="#2b2b2b" stroke-width="1"/>
<text x="310.80" y="407.20" font-size="8" text-anchor="middle" fill="#262626" stroke="#262626" stroke-width="0.22">0</text>
<line x1="328.50" y1="393.80" x2="328.50" y2="396.40" stroke="#2b2b2b" stroke-width="1"/>
<text x="328.20" y="407.20" font-size="8" text-anchor="middle" fill="#262626" stroke="#262626" stroke-width="0.22">20</text>
<line x1="345.50" y1="393.80" x2="345.50" y2="396.40" stroke="#2b2b2b" stroke-width="1"/>
<text x="345.60" y="407.20" font-size="8" text-anchor="middle" fill="#262626" stroke="#262626" stroke-width="0.22">40</text>
<line x1="363.50" y1="393.80" x2="363.50" y2="396.40" stroke="#2b2b2b" stroke-width="1"/>
<text x="363.00" y="407.20" font-size="8" text-anchor="middle" fill="#262626" stroke="#262626" stroke-width="0.22">60</text>
<line x1="380.50" y1="393.80" x2="380.50" y2="396.40" stroke="#2b2b2b" stroke-width="1"/>
<text x="380.40" y="407.20" font-size="8" text-anchor="middle" fill="#262626" stroke="#262626" stroke-width="0.22">80</text>
<line x1="397.50" y1="393.80" x2="397.50" y2="396.40" stroke="#2b2b2b" stroke-width="1"/>
<text x="397.80" y="407.20" font-size="8" text-anchor="middle" fill="#262626" stroke="#262626" stroke-width="0.22">100</text>
<text x="330.00" y="292.30" font-size="8.1" text-anchor="start" fill="#262626" stroke="#262626" stroke-width="0.22">R = 0,967</text>
<circle cx="332.40" cy="299.80" r="1.1" fill="#262626"/>
<circle cx="335.40" cy="299.80" r="1.1" fill="#262626"/>
<circle cx="338.40" cy="299.80" r="1.1" fill="#262626"/>
<circle cx="341.40" cy="299.80" r="1.1" fill="#262626"/>
<line x1="313.80" y1="393.80" x2="393.50" y2="312.00" stroke="#52a844" stroke-width="1"/>
<circle cx="389.10" cy="304.20" r="1.9" fill="none" stroke="#c4243c" stroke-width="1.0"/>
<circle cx="393.50" cy="302.50" r="1.9" fill="none" stroke="#c4243c" stroke-width="1.0"/>
<circle cx="371.90" cy="335.70" r="1.9" fill="none" stroke="#c4243c" stroke-width="1.0"/>
<circle cx="374.70" cy="343.80" r="1.9" fill="none" stroke="#c4243c" stroke-width="1.0"/>
<circle cx="360.90" cy="360.70" r="1.9" fill="none" stroke="#c4243c" stroke-width="1.0"/>
<circle cx="341.30" cy="380.10" r="1.9" fill="none" stroke="#c4243c" stroke-width="1.0"/>
<circle cx="334.90" cy="380.10" r="1.9" fill="none" stroke="#2a5290" stroke-width="1.0"/>
<circle cx="322.80" cy="385.40" r="1.9" fill="none" stroke="#2a5290" stroke-width="1.0"/>
<circle cx="320.70" cy="387.10" r="1.9" fill="none" stroke="#2a5290" stroke-width="1.0"/>
<circle cx="318.00" cy="387.80" r="1.9" fill="none" stroke="#2a5290" stroke-width="1.0"/>
<circle cx="316.50" cy="390.30" r="1.9" fill="none" stroke="#2a5290" stroke-width="1.0"/>
<circle cx="314.40" cy="392.40" r="1.9" fill="none" stroke="#2a5290" stroke-width="1.0"/>
<text x="355.00" y="421.10" font-size="9.5" text-anchor="middle" fill="#262626" stroke="#262626" stroke-width="0.5" textLength="73" lengthAdjust="spacingAndGlyphs">K562 (%) GranToxiLux +</text>
<text x="285.80" y="339.00" font-size="9.5" text-anchor="middle" fill="#262626" stroke="#262626" stroke-width="0.5" textLength="53" lengthAdjust="spacingAndGlyphs" transform="rotate(-90 285.80 339.00)">K562 (%) OCM +</text>
<line x1="450.50" y1="279.50" x2="450.50" y2="394.80" stroke="#2b2b2b" stroke-width="1"/>
<line x1="450.30" y1="394.50" x2="507.70" y2="394.50" stroke="#2b2b2b" stroke-width="1"/>
<line x1="448.00" y1="394.50" x2="450.80" y2="394.50" stroke="#2b2b2b" stroke-width="1"/>
<text x="444.60" y="397.20" font-size="8" text-anchor="end" fill="#262626" stroke="#262626" stroke-width="0.22">0</text>
<line x1="448.00" y1="371.50" x2="450.80" y2="371.50" stroke="#2b2b2b" stroke-width="1"/>
<text x="444.60" y="374.60" font-size="8" text-anchor="end" fill="#262626" stroke="#262626" stroke-width="0.22">500</text>
<line x1="448.00" y1="349.50" x2="450.80" y2="349.50" stroke="#2b2b2b" stroke-width="1"/>
<text x="444.60" y="352.00" font-size="8" text-anchor="end" fill="#262626" stroke="#262626" stroke-width="0.22">1000</text>
<line x1="448.00" y1="326.50" x2="450.80" y2="326.50" stroke="#2b2b2b" stroke-width="1"/>
<text x="444.60" y="329.40" font-size="8" text-anchor="end" fill="#262626" stroke="#262626" stroke-width="0.22">1500</text>
<line x1="448.00" y1="303.50" x2="450.80" y2="303.50" stroke="#2b2b2b" stroke-width="1"/>
<text x="444.60" y="306.80" font-size="8" text-anchor="end" fill="#262626" stroke="#262626" stroke-width="0.22">2000</text>
<line x1="448.00" y1="281.50" x2="450.80" y2="281.50" stroke="#2b2b2b" stroke-width="1"/>
<text x="444.60" y="284.20" font-size="8" text-anchor="end" fill="#262626" stroke="#262626" stroke-width="0.22">2500</text>
<line x1="462.50" y1="394.30" x2="462.50" y2="396.90" stroke="#2b2b2b" stroke-width="1"/>
<line x1="479.50" y1="394.30" x2="479.50" y2="396.90" stroke="#2b2b2b" stroke-width="1"/>
<line x1="496.50" y1="394.30" x2="496.50" y2="396.90" stroke="#2b2b2b" stroke-width="1"/>
<polyline points="462.50,293.50 462.50,287.50 496.50,287.50 496.50,365.50" fill="none" stroke="#2b2b2b" stroke-width="1"/>
<polyline points="462.50,316.50 462.50,310.50 479.50,310.50 479.50,352.50" fill="none" stroke="#2b2b2b" stroke-width="1"/>
<circle cx="478.90" cy="283.20" r="1.1" fill="#262626"/>
<circle cx="470.80" cy="305.40" r="1.1" fill="#262626"/>
<circle cx="461.80" cy="323.40" r="1.9" fill="none" stroke="#c4243c" stroke-width="1.0"/>
<circle cx="458.50" cy="354.90" r="1.9" fill="none" stroke="#c4243c" stroke-width="1.0"/>
<circle cx="466.20" cy="356.90" r="1.9" fill="none" stroke="#c4243c" stroke-width="1.0"/>
<circle cx="458.50" cy="361.80" r="1.9" fill="none" stroke="#c4243c" stroke-width="1.0"/>
<circle cx="466.20" cy="363.10" r="1.9" fill="none" stroke="#c4243c" stroke-width="1.0"/>
<circle cx="462.30" cy="369.70" r="1.9" fill="none" stroke="#c4243c" stroke-width="1.0"/>
<line x1="456.90" y1="359.50" x2="467.70" y2="359.50" stroke="#2b2b2b" stroke-width="0.9"/>
<circle cx="479.20" cy="358.90" r="1.9" fill="none" stroke="#2a5290" stroke-width="1.0"/>
<circle cx="479.20" cy="375.80" r="1.9" fill="none" stroke="#2a5290" stroke-width="1.0"/>
<circle cx="479.20" cy="381.20" r="1.9" fill="none" stroke="#2a5290" stroke-width="1.0"/>
<circle cx="475.40" cy="393.50" r="1.9" fill="none" stroke="#2a5290" stroke-width="1.0"/>
<circle cx="479.20" cy="393.50" r="1.9" fill="none" stroke="#2a5290" stroke-width="1.0"/>
<circle cx="483.10" cy="393.50" r="1.9" fill="none" stroke="#2a5290" stroke-width="1.0"/>
<line x1="474.20" y1="387.50" x2="484.60" y2="387.50" stroke="#2b2b2b" stroke-width="0.9"/>
<circle cx="492.00" cy="374.20" r="1.9" fill="none" stroke="#52a844" stroke-width="1.0"/>
<circle cx="500.00" cy="371.80" r="1.9" fill="none" stroke="#52a844" stroke-width="1.0"/>
<circle cx="492.00" cy="392.80" r="1.9" fill="none" stroke="#52a844" stroke-width="1.0"/>
<circle cx="500.00" cy="392.80" r="1.9" fill="none" stroke="#52a844" stroke-width="1.0"/>
<line x1="490.80" y1="383.50" x2="502.00" y2="383.50" stroke="#2b2b2b" stroke-width="0.9"/>
<text x="420.60" y="336.60" font-size="9.5" text-anchor="middle" fill="#262626" stroke="#262626" stroke-width="0.3" textLength="85.5" lengthAdjust="spacingAndGlyphs" transform="rotate(-90 420.60 336.60)">Human granzyme B (pg/mL)</text>
<text x="467.20" y="405.80" font-size="7.8" text-anchor="end" fill="#262626" stroke="#262626" stroke-width="0.22" transform="rotate(-45 467.20 405.80)">Educated</text>
<text x="484.50" y="405.80" font-size="7.8" text-anchor="end" fill="#262626" stroke="#262626" stroke-width="0.22" transform="rotate(-45 484.50 405.80)">Uneducated</text>
<text x="501.00" y="405.80" font-size="7.8" text-anchor="end" fill="#262626" stroke="#262626" stroke-width="0.22" transform="rotate(-45 501.00 405.80)">Unstimulated</text>
<circle cx="180.6" cy="448.9" r="2.6" fill="#1f4a80"/>
<text x="186.50" y="451.30" font-size="7.3" text-anchor="start" fill="#333" stroke="#333" stroke-width="0.22">Uneducated NK cells</text>
<circle cx="266.3" cy="448.9" r="2.6" fill="#c0182e"/>
<text x="272.00" y="451.30" font-size="7.3" text-anchor="start" fill="#333" stroke="#333" stroke-width="0.22">Educated NK cells</text>
<circle cx="343.5" cy="448.9" r="2.6" fill="#3f9a3a"/>
<text x="349.50" y="451.30" font-size="7.3" text-anchor="start" fill="#333" stroke="#333" stroke-width="0.22">No NK cells</text>
<line x1="125.50" y1="502.10" x2="125.50" y2="600.60" stroke="#2b2b2b" stroke-width="1"/>
<line x1="124.70" y1="598.50" x2="207.00" y2="598.50" stroke="#2b2b2b" stroke-width="1"/>
<line x1="122.40" y1="598.50" x2="125.20" y2="598.50" stroke="#2b2b2b" stroke-width="1"/>
<text x="118.70" y="601.00" font-size="8" text-anchor="end" fill="#262626" stroke="#262626" stroke-width="0.22">0</text>
<line x1="122.40" y1="574.50" x2="125.20" y2="574.50" stroke="#2b2b2b" stroke-width="1"/>
<text x="118.70" y="577.55" font-size="8" text-anchor="end" fill="#262626" stroke="#262626" stroke-width="0.22">500</text>
<line x1="122.40" y1="551.50" x2="125.20" y2="551.50" stroke="#2b2b2b" stroke-width="1"/>
<text x="118.70" y="554.10" font-size="8" text-anchor="end" fill="#262626" stroke="#262626" stroke-width="0.22">1000</text>
<line x1="122.40" y1="527.50" x2="125.20" y2="527.50" stroke="#2b2b2b" stroke-width="1"/>
<text x="118.70" y="530.65" font-size="8" text-anchor="end" fill="#262626" stroke="#262626" stroke-width="0.22">1500</text>
<line x1="122.40" y1="504.50" x2="125.20" y2="504.50" stroke="#2b2b2b" stroke-width="1"/>
<text x="118.70" y="507.20" font-size="8" text-anchor="end" fill="#262626" stroke="#262626" stroke-width="0.22">2000</text>
<line x1="125.50" y1="598.30" x2="125.50" y2="600.80" stroke="#2b2b2b" stroke-width="1"/>
<text x="122.20" y="611.30" font-size="8" text-anchor="middle" fill="#262626" stroke="#262626" stroke-width="0.22">−500</text>
<line x1="142.50" y1="598.30" x2="142.50" y2="600.80" stroke="#2b2b2b" stroke-width="1"/>
<text x="142.60" y="611.30" font-size="8" text-anchor="middle" fill="#262626" stroke="#262626" stroke-width="0.22">0</text>
<line x1="162.50" y1="598.30" x2="162.50" y2="600.80" stroke="#2b2b2b" stroke-width="1"/>
<text x="162.60" y="611.30" font-size="8" text-anchor="middle" fill="#262626" stroke="#262626" stroke-width="0.22">500</text>
<line x1="182.50" y1="598.30" x2="182.50" y2="600.80" stroke="#2b2b2b" stroke-width="1"/>
<text x="182.50" y="611.30" font-size="8" text-anchor="middle" fill="#262626" stroke="#262626" stroke-width="0.22">1000</text>
<line x1="202.50" y1="598.30" x2="202.50" y2="600.80" stroke="#2b2b2b" stroke-width="1"/>
<text x="202.80" y="611.30" font-size="8" text-anchor="middle" fill="#262626" stroke="#262626" stroke-width="0.22">1500</text>
<text x="165.90" y="497.30" font-size="7.85" text-anchor="middle" fill="#333" stroke="#333" stroke-width="0.22">Educated NK cells</text>
<line x1="133.80" y1="577.70" x2="189.50" y2="541.20" stroke="#52a844" stroke-width="0.9"/>
<circle cx="181.60" cy="512.30" r="1.85" fill="none" stroke="#c41e3c" stroke-width="1.0"/>
<circle cx="163.20" cy="535.70" r="1.85" fill="none" stroke="#c41e3c" stroke-width="1.0"/>
<circle cx="145.90" cy="542.80" r="1.85" fill="none" stroke="#c41e3c" stroke-width="1.0"/>
<circle cx="165.80" cy="541.80" r="1.85" fill="none" stroke="#c41e3c" stroke-width="1.0"/>
<circle cx="189.90" cy="540.90" r="1.85" fill="none" stroke="#c41e3c" stroke-width="1.0"/>
<circle cx="172.20" cy="544.90" r="1.85" fill="none" stroke="#c41e3c" stroke-width="1.0"/>
<circle cx="170.50" cy="548.60" r="1.85" fill="none" stroke="#c41e3c" stroke-width="1.0"/>
<circle cx="159.60" cy="545.80" r="1.85" fill="none" stroke="#c41e3c" stroke-width="1.0"/>
<circle cx="157.30" cy="547.40" r="1.85" fill="none" stroke="#c41e3c" stroke-width="1.0"/>
<circle cx="156.50" cy="548.50" r="1.85" fill="none" stroke="#c41e3c" stroke-width="1.0"/>
<circle cx="163.50" cy="548.50" r="1.85" fill="none" stroke="#c41e3c" stroke-width="1.0"/>
<circle cx="164.20" cy="550.50" r="1.85" fill="none" stroke="#c41e3c" stroke-width="1.0"/>
<circle cx="181.90" cy="551.10" r="1.85" fill="none" stroke="#c41e3c" stroke-width="1.0"/>
<circle cx="161.50" cy="553.10" r="1.85" fill="none" stroke="#c41e3c" stroke-width="1.0"/>
<circle cx="152.40" cy="552.60" r="1.85" fill="none" stroke="#c41e3c" stroke-width="1.0"/>
<circle cx="147.00" cy="554.60" r="1.85" fill="none" stroke="#c41e3c" stroke-width="1.0"/>
<circle cx="165.30" cy="554.60" r="1.85" fill="none" stroke="#c41e3c" stroke-width="1.0"/>
<circle cx="178.10" cy="554.60" r="1.85" fill="none" stroke="#c41e3c" stroke-width="1.0"/>
<circle cx="175.80" cy="557.20" r="1.85" fill="none" stroke="#c41e3c" stroke-width="1.0"/>
<circle cx="174.20" cy="558.50" r="1.85" fill="none" stroke="#c41e3c" stroke-width="1.0"/>
<circle cx="171.90" cy="561.60" r="1.85" fill="none" stroke="#c41e3c" stroke-width="1.0"/>
<circle cx="135.00" cy="561.20" r="1.85" fill="none" stroke="#c41e3c" stroke-width="1.0"/>
<circle cx="146.20" cy="561.20" r="1.85" fill="none" stroke="#c41e3c" stroke-width="1.0"/>
<circle cx="163.50" cy="560.80" r="1.85" fill="none" stroke="#c41e3c" stroke-width="1.0"/>
<circle cx="153.50" cy="563.50" r="1.85" fill="none" stroke="#c41e3c" stroke-width="1.0"/>
<circle cx="155.80" cy="565.00" r="1.85" fill="none" stroke="#c41e3c" stroke-width="1.0"/>
<circle cx="144.20" cy="566.50" r="1.85" fill="none" stroke="#c41e3c" stroke-width="1.0"/>
<circle cx="151.90" cy="566.50" r="1.85" fill="none" stroke="#c41e3c" stroke-width="1.0"/>
<circle cx="157.30" cy="566.50" r="1.85" fill="none" stroke="#c41e3c" stroke-width="1.0"/>
<circle cx="166.50" cy="568.40" r="1.85" fill="none" stroke="#c41e3c" stroke-width="1.0"/>
<circle cx="149.60" cy="569.60" r="1.85" fill="none" stroke="#c41e3c" stroke-width="1.0"/>
<circle cx="141.90" cy="572.40" r="1.85" fill="none" stroke="#c41e3c" stroke-width="1.0"/>
<circle cx="152.70" cy="572.70" r="1.85" fill="none" stroke="#c41e3c" stroke-width="1.0"/>
<circle cx="161.50" cy="574.20" r="1.85" fill="none" stroke="#c41e3c" stroke-width="1.0"/>
<circle cx="136.50" cy="576.50" r="1.85" fill="none" stroke="#c41e3c" stroke-width="1.0"/>
<circle cx="133.50" cy="578.10" r="1.85" fill="none" stroke="#c41e3c" stroke-width="1.0"/>
<circle cx="145.00" cy="578.10" r="1.85" fill="none" stroke="#c41e3c" stroke-width="1.0"/>
<circle cx="152.40" cy="576.50" r="1.85" fill="none" stroke="#c41e3c" stroke-width="1.0"/>
<circle cx="158.80" cy="577.60" r="1.85" fill="none" stroke="#c41e3c" stroke-width="1.0"/>
<circle cx="157.00" cy="580.10" r="1.85" fill="none" stroke="#c41e3c" stroke-width="1.0"/>
<circle cx="155.00" cy="582.40" r="1.85" fill="none" stroke="#c41e3c" stroke-width="1.0"/>
<circle cx="153.50" cy="583.90" r="1.85" fill="none" stroke="#c41e3c" stroke-width="1.0"/>
<circle cx="138.10" cy="583.80" r="1.85" fill="none" stroke="#c41e3c" stroke-width="1.0"/>
<text x="184.90" y="578.10" font-size="7.9" text-anchor="middle" fill="#333" stroke="#333" stroke-width="0.22">0.5798</text>
<circle cx="180.70" cy="583.40" r="1.1" fill="#262626"/>
<circle cx="183.70" cy="583.40" r="1.1" fill="#262626"/>
<circle cx="186.70" cy="583.40" r="1.1" fill="#262626"/>
<circle cx="189.70" cy="583.40" r="1.1" fill="#262626"/>
<text x="95.60" y="548.50" font-size="9.5" text-anchor="middle" fill="#262626" stroke="#262626" stroke-width="0.3" textLength="86.4" lengthAdjust="spacingAndGlyphs" transform="rotate(-90 95.60 548.50)">Granzyme B (MFI) pre-assay</text>
<line x1="241.50" y1="500.00" x2="241.50" y2="600.60" stroke="#2b2b2b" stroke-width="1"/>
<line x1="240.80" y1="598.50" x2="323.70" y2="598.50" stroke="#2b2b2b" stroke-width="1"/>
<line x1="238.50" y1="598.50" x2="241.30" y2="598.50" stroke="#2b2b2b" stroke-width="1"/>
<text x="235.00" y="601.00" font-size="8" text-anchor="end" fill="#262626" stroke="#262626" stroke-width="0.22">0</text>
<line x1="238.50" y1="574.50" x2="241.30" y2="574.50" stroke="#2b2b2b" stroke-width="1"/>
<text x="235.00" y="577.20" font-size="8" text-anchor="end" fill="#262626" stroke="#262626" stroke-width="0.22">500</text>
<line x1="238.50" y1="550.50" x2="241.30" y2="550.50" stroke="#2b2b2b" stroke-width="1"/>
<text x="235.00" y="553.40" font-size="8" text-anchor="end" fill="#262626" stroke="#262626" stroke-width="0.22">1000</text>
<line x1="238.50" y1="526.50" x2="241.30" y2="526.50" stroke="#2b2b2b" stroke-width="1"/>
<text x="235.00" y="529.60" font-size="8" text-anchor="end" fill="#262626" stroke="#262626" stroke-width="0.22">1500</text>
<line x1="238.50" y1="502.50" x2="241.30" y2="502.50" stroke="#2b2b2b" stroke-width="1"/>
<text x="235.00" y="505.80" font-size="8" text-anchor="end" fill="#262626" stroke="#262626" stroke-width="0.22">2000</text>
<line x1="241.50" y1="598.30" x2="241.50" y2="600.80" stroke="#2b2b2b" stroke-width="1"/>
<text x="241.30" y="611.30" font-size="8" text-anchor="middle" fill="#262626" stroke="#262626" stroke-width="0.22">−500</text>
<line x1="261.50" y1="598.30" x2="261.50" y2="600.80" stroke="#2b2b2b" stroke-width="1"/>
<text x="261.50" y="611.30" font-size="8" text-anchor="middle" fill="#262626" stroke="#262626" stroke-width="0.22">0</text>
<line x1="281.50" y1="598.30" x2="281.50" y2="600.80" stroke="#2b2b2b" stroke-width="1"/>
<text x="281.70" y="611.30" font-size="8" text-anchor="middle" fill="#262626" stroke="#262626" stroke-width="0.22">500</text>
<line x1="302.50" y1="598.30" x2="302.50" y2="600.80" stroke="#2b2b2b" stroke-width="1"/>
<text x="302.00" y="611.30" font-size="8" text-anchor="middle" fill="#262626" stroke="#262626" stroke-width="0.22">1000</text>
<line x1="322.50" y1="598.30" x2="322.50" y2="600.80" stroke="#2b2b2b" stroke-width="1"/>
<text x="322.50" y="611.30" font-size="8" text-anchor="middle" fill="#262626" stroke="#262626" stroke-width="0.22">1500</text>
<text x="283.20" y="494.70" font-size="7.8" text-anchor="middle" fill="#333" stroke="#333" stroke-width="0.22">Uneducated NK cells</text>
<line x1="250.00" y1="587.30" x2="289.20" y2="551.50" stroke="#52a844" stroke-width="0.8"/>
<circle cx="286.70" cy="546.30" r="1.85" fill="none" stroke="#1f5690" stroke-width="1.0"/>
<circle cx="276.90" cy="550.20" r="1.85" fill="none" stroke="#1f5690" stroke-width="1.0"/>
<circle cx="288.70" cy="551.20" r="1.85" fill="none" stroke="#1f5690" stroke-width="1.0"/>
<circle cx="270.60" cy="555.00" r="1.85" fill="none" stroke="#1f5690" stroke-width="1.0"/>
<circle cx="280.40" cy="557.90" r="1.85" fill="none" stroke="#1f5690" stroke-width="1.0"/>
<circle cx="270.00" cy="559.80" r="1.85" fill="none" stroke="#1f5690" stroke-width="1.0"/>
<circle cx="274.30" cy="561.90" r="1.85" fill="none" stroke="#1f5690" stroke-width="1.0"/>
<circle cx="277.10" cy="562.50" r="1.85" fill="none" stroke="#1f5690" stroke-width="1.0"/>
<circle cx="278.60" cy="564.80" r="1.85" fill="none" stroke="#1f5690" stroke-width="1.0"/>
<circle cx="270.20" cy="566.00" r="1.85" fill="none" stroke="#1f5690" stroke-width="1.0"/>
<circle cx="273.40" cy="567.10" r="1.85" fill="none" stroke="#1f5690" stroke-width="1.0"/>
<circle cx="253.30" cy="569.80" r="1.85" fill="none" stroke="#1f5690" stroke-width="1.0"/>
<circle cx="257.90" cy="570.00" r="1.85" fill="none" stroke="#1f5690" stroke-width="1.0"/>
<circle cx="264.80" cy="569.10" r="1.85" fill="none" stroke="#1f5690" stroke-width="1.0"/>
<circle cx="268.30" cy="570.20" r="1.85" fill="none" stroke="#1f5690" stroke-width="1.0"/>
<circle cx="271.70" cy="569.40" r="1.85" fill="none" stroke="#1f5690" stroke-width="1.0"/>
<circle cx="276.30" cy="571.70" r="1.85" fill="none" stroke="#1f5690" stroke-width="1.0"/>
<circle cx="271.70" cy="576.30" r="1.85" fill="none" stroke="#1f5690" stroke-width="1.0"/>
<circle cx="267.70" cy="575.80" r="1.85" fill="none" stroke="#1f5690" stroke-width="1.0"/>
<circle cx="260.80" cy="576.00" r="1.85" fill="none" stroke="#1f5690" stroke-width="1.0"/>
<circle cx="264.80" cy="578.10" r="1.85" fill="none" stroke="#1f5690" stroke-width="1.0"/>
<circle cx="259.60" cy="578.60" r="1.85" fill="none" stroke="#1f5690" stroke-width="1.0"/>
<circle cx="257.30" cy="579.80" r="1.85" fill="none" stroke="#1f5690" stroke-width="1.0"/>
<circle cx="262.50" cy="579.80" r="1.85" fill="none" stroke="#1f5690" stroke-width="1.0"/>
<circle cx="267.70" cy="579.80" r="1.85" fill="none" stroke="#1f5690" stroke-width="1.0"/>
<circle cx="258.50" cy="581.50" r="1.85" fill="none" stroke="#1f5690" stroke-width="1.0"/>
<circle cx="255.00" cy="581.50" r="1.85" fill="none" stroke="#1f5690" stroke-width="1.0"/>
<circle cx="263.10" cy="583.30" r="1.85" fill="none" stroke="#1f5690" stroke-width="1.0"/>
<circle cx="268.30" cy="582.90" r="1.85" fill="none" stroke="#1f5690" stroke-width="1.0"/>
<circle cx="250.20" cy="583.60" r="1.85" fill="none" stroke="#1f5690" stroke-width="1.0"/>
<circle cx="256.10" cy="584.10" r="1.85" fill="none" stroke="#1f5690" stroke-width="1.0"/>
<circle cx="259.00" cy="583.80" r="1.85" fill="none" stroke="#1f5690" stroke-width="1.0"/>
<circle cx="252.70" cy="585.60" r="1.85" fill="none" stroke="#1f5690" stroke-width="1.0"/>
<circle cx="255.00" cy="588.40" r="1.85" fill="none" stroke="#1f5690" stroke-width="1.0"/>
<text x="310.50" y="576.60" font-size="7.9" text-anchor="middle" fill="#333" stroke="#333" stroke-width="0.22">0.8140</text>
<circle cx="306.00" cy="581.70" r="1.1" fill="#262626"/>
<circle cx="309.00" cy="581.70" r="1.1" fill="#262626"/>
<circle cx="312.00" cy="581.70" r="1.1" fill="#262626"/>
<circle cx="315.00" cy="581.70" r="1.1" fill="#262626"/>
<text x="224.70" y="627.10" font-size="9.5" text-anchor="middle" fill="#262626" stroke="#262626" stroke-width="0.4" textLength="103.6" lengthAdjust="spacingAndGlyphs">Δ granzyme B (MFI) CD107a assay</text>
<line x1="382.50" y1="506.80" x2="382.50" y2="598.30" stroke="#2b2b2b" stroke-width="1"/>
<line x1="381.70" y1="597.50" x2="435.80" y2="597.50" stroke="#2b2b2b" stroke-width="1"/>
<line x1="379.40" y1="509.50" x2="382.20" y2="509.50" stroke="#2b2b2b" stroke-width="1"/>
<text x="375.90" y="511.90" font-size="7.5" text-anchor="end" fill="#262626" stroke="#262626" stroke-width="0.22">10</text>
<line x1="379.40" y1="531.50" x2="382.20" y2="531.50" stroke="#2b2b2b" stroke-width="1"/>
<text x="375.90" y="534.00" font-size="7.5" text-anchor="end" fill="#262626" stroke="#262626" stroke-width="0.22">5</text>
<line x1="379.40" y1="553.50" x2="382.20" y2="553.50" stroke="#2b2b2b" stroke-width="1"/>
<text x="375.90" y="556.10" font-size="7.5" text-anchor="end" fill="#262626" stroke="#262626" stroke-width="0.22">0</text>
<line x1="379.40" y1="575.50" x2="382.20" y2="575.50" stroke="#2b2b2b" stroke-width="1"/>
<text x="375.90" y="578.20" font-size="7.5" text-anchor="end" fill="#262626" stroke="#262626" stroke-width="0.22">−5</text>
<line x1="379.40" y1="597.50" x2="382.20" y2="597.50" stroke="#2b2b2b" stroke-width="1"/>
<text x="375.90" y="600.30" font-size="7.5" text-anchor="end" fill="#262626" stroke="#262626" stroke-width="0.22">−10</text>
<line x1="397.50" y1="597.80" x2="397.50" y2="600.80" stroke="#2b2b2b" stroke-width="1"/>
<line x1="420.50" y1="597.80" x2="420.50" y2="600.80" stroke="#2b2b2b" stroke-width="1"/>
<line x1="382.20" y1="553.50" x2="435.80" y2="553.50" stroke="#333" stroke-width="0.9" stroke-dasharray="1.1,1.4"/>
<polyline points="397.50,523.50 397.50,517.50 420.50,517.50 420.50,531.50" fill="none" stroke="#2b2b2b" stroke-width="1"/>
<circle cx="405.80" cy="514.20" r="1.1" fill="#262626"/>
<circle cx="408.80" cy="514.20" r="1.1" fill="#262626"/>
<circle cx="411.80" cy="514.20" r="1.1" fill="#262626"/>
<circle cx="397.60" cy="528.65" r="1.55" fill="none" stroke="#d41430" stroke-width="1.0"/>
<circle cx="399.60" cy="528.65" r="1.55" fill="none" stroke="#d41430" stroke-width="1.0"/>
<circle cx="395.60" cy="529.09" r="1.55" fill="none" stroke="#d41430" stroke-width="1.0"/>
<circle cx="401.60" cy="529.09" r="1.55" fill="none" stroke="#d41430" stroke-width="1.0"/>
<circle cx="393.60" cy="529.31" r="1.55" fill="none" stroke="#d41430" stroke-width="1.0"/>
<circle cx="403.60" cy="529.75" r="1.55" fill="none" stroke="#d41430" stroke-width="1.0"/>
<circle cx="397.60" cy="531.74" r="1.55" fill="none" stroke="#d41430" stroke-width="1.0"/>
<circle cx="397.60" cy="536.16" r="1.55" fill="none" stroke="#d41430" stroke-width="1.0"/>
<circle cx="399.60" cy="536.60" r="1.55" fill="none" stroke="#d41430" stroke-width="1.0"/>
<circle cx="396.10" cy="537.49" r="1.55" fill="none" stroke="#d41430" stroke-width="1.0"/>
<circle cx="398.10" cy="538.37" r="1.55" fill="none" stroke="#d41430" stroke-width="1.0"/>
<circle cx="400.10" cy="538.81" r="1.55" fill="none" stroke="#d41430" stroke-width="1.0"/>
<circle cx="395.10" cy="539.26" r="1.55" fill="none" stroke="#d41430" stroke-width="1.0"/>
<circle cx="402.10" cy="539.92" r="1.55" fill="none" stroke="#d41430" stroke-width="1.0"/>
<circle cx="397.10" cy="540.14" r="1.55" fill="none" stroke="#d41430" stroke-width="1.0"/>
<circle cx="393.10" cy="540.14" r="1.55" fill="none" stroke="#d41430" stroke-width="1.0"/>
<circle cx="399.10" cy="540.58" r="1.55" fill="none" stroke="#d41430" stroke-width="1.0"/>
<circle cx="404.10" cy="540.80" r="1.55" fill="none" stroke="#d41430" stroke-width="1.0"/>
<circle cx="391.10" cy="541.02" r="1.55" fill="none" stroke="#d41430" stroke-width="1.0"/>
<circle cx="406.10" cy="541.02" r="1.55" fill="none" stroke="#d41430" stroke-width="1.0"/>
<circle cx="395.60" cy="541.47" r="1.55" fill="none" stroke="#d41430" stroke-width="1.0"/>
<circle cx="401.10" cy="541.69" r="1.55" fill="none" stroke="#d41430" stroke-width="1.0"/>
<circle cx="389.10" cy="541.91" r="1.55" fill="none" stroke="#d41430" stroke-width="1.0"/>
<circle cx="397.60" cy="542.35" r="1.55" fill="none" stroke="#d41430" stroke-width="1.0"/>
<circle cx="394.10" cy="542.79" r="1.55" fill="none" stroke="#d41430" stroke-width="1.0"/>
<circle cx="399.60" cy="543.23" r="1.55" fill="none" stroke="#d41430" stroke-width="1.0"/>
<circle cx="396.10" cy="543.68" r="1.55" fill="none" stroke="#d41430" stroke-width="1.0"/>
<circle cx="401.60" cy="544.12" r="1.55" fill="none" stroke="#d41430" stroke-width="1.0"/>
<circle cx="398.10" cy="544.56" r="1.55" fill="none" stroke="#d41430" stroke-width="1.0"/>
<circle cx="394.60" cy="545.00" r="1.55" fill="none" stroke="#d41430" stroke-width="1.0"/>
<circle cx="400.10" cy="545.44" r="1.55" fill="none" stroke="#d41430" stroke-width="1.0"/>
<circle cx="396.60" cy="545.89" r="1.55" fill="none" stroke="#d41430" stroke-width="1.0"/>
<circle cx="402.10" cy="546.33" r="1.55" fill="none" stroke="#d41430" stroke-width="1.0"/>
<circle cx="398.60" cy="546.77" r="1.55" fill="none" stroke="#d41430" stroke-width="1.0"/>
<circle cx="395.60" cy="547.65" r="1.55" fill="none" stroke="#d41430" stroke-width="1.0"/>
<circle cx="400.10" cy="548.10" r="1.55" fill="none" stroke="#d41430" stroke-width="1.0"/>
<circle cx="397.60" cy="548.98" r="1.55" fill="none" stroke="#d41430" stroke-width="1.0"/>
<circle cx="395.60" cy="549.86" r="1.55" fill="none" stroke="#d41430" stroke-width="1.0"/>
<circle cx="398.60" cy="550.75" r="1.55" fill="none" stroke="#d41430" stroke-width="1.0"/>
<circle cx="396.60" cy="551.63" r="1.55" fill="none" stroke="#d41430" stroke-width="1.0"/>
<circle cx="399.60" cy="552.52" r="1.55" fill="none" stroke="#d41430" stroke-width="1.0"/>
<circle cx="397.60" cy="555.61" r="1.55" fill="none" stroke="#d41430" stroke-width="1.0"/>
<circle cx="397.60" cy="559.81" r="1.55" fill="none" stroke="#d41430" stroke-width="1.0"/>
<circle cx="397.60" cy="562.24" r="1.55" fill="none" stroke="#d41430" stroke-width="1.0"/>
<circle cx="397.60" cy="566.00" r="1.55" fill="none" stroke="#d41430" stroke-width="1.0"/>
<circle cx="420.60" cy="536.60" r="1.55" fill="none" stroke="#1c5292" stroke-width="1.0"/>
<circle cx="422.60" cy="537.49" r="1.55" fill="none" stroke="#1c5292" stroke-width="1.0"/>
<circle cx="419.10" cy="537.93" r="1.55" fill="none" stroke="#1c5292" stroke-width="1.0"/>
<circle cx="421.10" cy="538.81" r="1.55" fill="none" stroke="#1c5292" stroke-width="1.0"/>
<circle cx="423.60" cy="539.26" r="1.55" fill="none" stroke="#1c5292" stroke-width="1.0"/>
<circle cx="418.10" cy="539.70" r="1.55" fill="none" stroke="#1c5292" stroke-width="1.0"/>
<circle cx="416.10" cy="540.14" r="1.55" fill="none" stroke="#1c5292" stroke-width="1.0"/>
<circle cx="425.60" cy="540.14" r="1.55" fill="none" stroke="#1c5292" stroke-width="1.0"/>
<circle cx="420.10" cy="540.58" r="1.55" fill="none" stroke="#1c5292" stroke-width="1.0"/>
<circle cx="422.10" cy="541.02" r="1.55" fill="none" stroke="#1c5292" stroke-width="1.0"/>
<circle cx="424.10" cy="541.47" r="1.55" fill="none" stroke="#1c5292" stroke-width="1.0"/>
<circle cx="418.60" cy="541.91" r="1.55" fill="none" stroke="#1c5292" stroke-width="1.0"/>
<circle cx="416.60" cy="542.35" r="1.55" fill="none" stroke="#1c5292" stroke-width="1.0"/>
<circle cx="420.60" cy="542.79" r="1.55" fill="none" stroke="#1c5292" stroke-width="1.0"/>
<circle cx="422.60" cy="543.23" r="1.55" fill="none" stroke="#1c5292" stroke-width="1.0"/>
<circle cx="424.60" cy="543.68" r="1.55" fill="none" stroke="#1c5292" stroke-width="1.0"/>
<circle cx="419.10" cy="544.12" r="1.55" fill="none" stroke="#1c5292" stroke-width="1.0"/>
<circle cx="417.10" cy="544.56" r="1.55" fill="none" stroke="#1c5292" stroke-width="1.0"/>
<circle cx="421.10" cy="545.00" r="1.55" fill="none" stroke="#1c5292" stroke-width="1.0"/>
<circle cx="423.10" cy="545.44" r="1.55" fill="none" stroke="#1c5292" stroke-width="1.0"/>
<circle cx="425.10" cy="545.89" r="1.55" fill="none" stroke="#1c5292" stroke-width="1.0"/>
<circle cx="419.60" cy="546.33" r="1.55" fill="none" stroke="#1c5292" stroke-width="1.0"/>
<circle cx="417.60" cy="546.77" r="1.55" fill="none" stroke="#1c5292" stroke-width="1.0"/>
<circle cx="421.60" cy="547.21" r="1.55" fill="none" stroke="#1c5292" stroke-width="1.0"/>
<circle cx="423.60" cy="547.65" r="1.55" fill="none" stroke="#1c5292" stroke-width="1.0"/>
<circle cx="416.10" cy="548.10" r="1.55" fill="none" stroke="#1c5292" stroke-width="1.0"/>
<circle cx="420.10" cy="548.54" r="1.55" fill="none" stroke="#1c5292" stroke-width="1.0"/>
<circle cx="418.10" cy="548.98" r="1.55" fill="none" stroke="#1c5292" stroke-width="1.0"/>
<circle cx="422.10" cy="549.42" r="1.55" fill="none" stroke="#1c5292" stroke-width="1.0"/>
<circle cx="424.10" cy="550.31" r="1.55" fill="none" stroke="#1c5292" stroke-width="1.0"/>
<circle cx="420.60" cy="551.19" r="1.55" fill="none" stroke="#1c5292" stroke-width="1.0"/>
<circle cx="422.60" cy="552.07" r="1.55" fill="none" stroke="#1c5292" stroke-width="1.0"/>
<circle cx="419.60" cy="552.96" r="1.55" fill="none" stroke="#1c5292" stroke-width="1.0"/>
<circle cx="421.60" cy="553.84" r="1.55" fill="none" stroke="#1c5292" stroke-width="1.0"/>
<circle cx="418.60" cy="554.73" r="1.55" fill="none" stroke="#1c5292" stroke-width="1.0"/>
<circle cx="420.60" cy="556.05" r="1.55" fill="none" stroke="#1c5292" stroke-width="1.0"/>
<circle cx="422.10" cy="557.38" r="1.55" fill="none" stroke="#1c5292" stroke-width="1.0"/>
<circle cx="420.60" cy="558.70" r="1.55" fill="none" stroke="#1c5292" stroke-width="1.0"/>
<circle cx="422.10" cy="560.03" r="1.55" fill="none" stroke="#1c5292" stroke-width="1.0"/>
<circle cx="420.60" cy="561.36" r="1.55" fill="none" stroke="#1c5292" stroke-width="1.0"/>
<circle cx="421.60" cy="563.12" r="1.55" fill="none" stroke="#1c5292" stroke-width="1.0"/>
<circle cx="420.60" cy="564.89" r="1.55" fill="none" stroke="#1c5292" stroke-width="1.0"/>
<circle cx="421.60" cy="566.66" r="1.55" fill="none" stroke="#1c5292" stroke-width="1.0"/>
<circle cx="420.10" cy="567.99" r="1.55" fill="none" stroke="#1c5292" stroke-width="1.0"/>
<circle cx="420.60" cy="573.29" r="1.55" fill="none" stroke="#1c5292" stroke-width="1.0"/>
<circle cx="421.60" cy="575.06" r="1.55" fill="none" stroke="#1c5292" stroke-width="1.0"/>
<circle cx="419.60" cy="575.94" r="1.55" fill="none" stroke="#1c5292" stroke-width="1.0"/>
<line x1="389.50" y1="540.50" x2="405.50" y2="540.50" stroke="#222" stroke-width="0.9"/>
<line x1="413.00" y1="547.50" x2="428.50" y2="547.50" stroke="#222" stroke-width="0.9"/>
<text x="357.40" y="554.60" font-size="9.5" text-anchor="middle" fill="#262626" stroke="#262626" stroke-width="0.2" textLength="85" lengthAdjust="spacingAndGlyphs" transform="rotate(-90 357.40 554.60)">Granules mobilized per kill (n)</text>
<text x="402.60" y="608.30" font-size="7.8" text-anchor="end" fill="#262626" stroke="#262626" stroke-width="0.22" transform="rotate(-45 402.60 608.30)">Educated</text>
<text x="425.70" y="607.80" font-size="7.8" text-anchor="end" fill="#262626" stroke="#262626" stroke-width="0.22" transform="rotate(-45 425.70 607.80)">Uneducated</text>
<rect x="0.5" y="0.5" width="519" height="648" fill="none" stroke="#555" stroke-width="1.2"/>
</svg>
</body></html>
